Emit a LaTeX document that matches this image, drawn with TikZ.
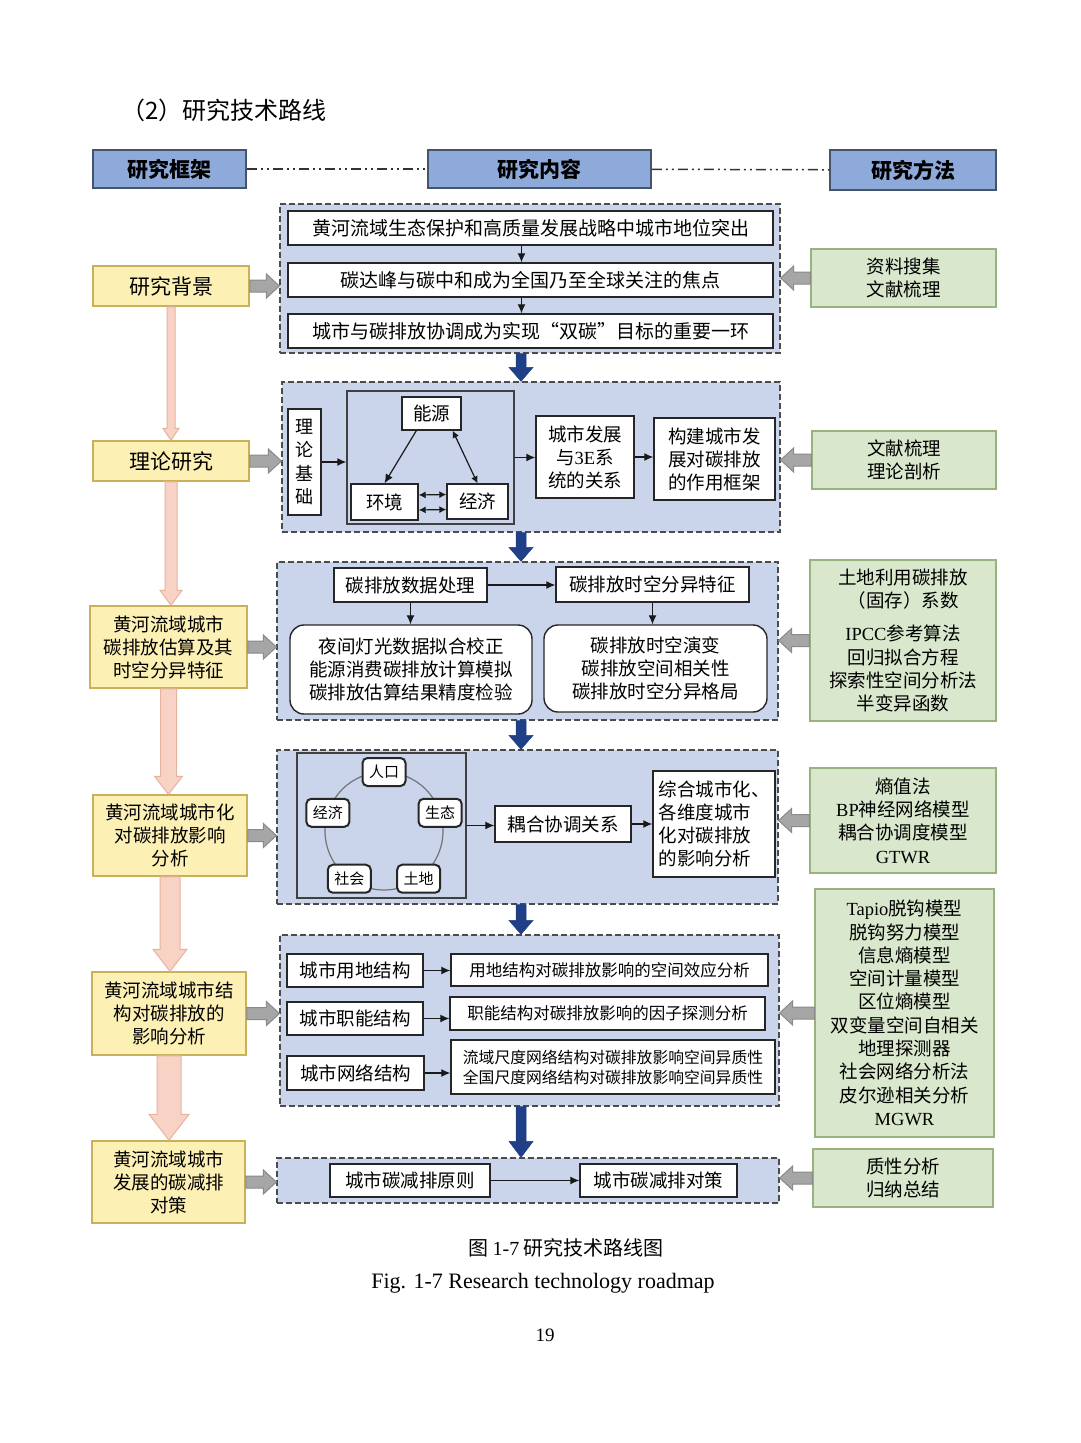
\documentclass[tikz,border=0pt]{standalone}
\usepackage{fontspec}
\setmainfont{Noto Sans CJK SC}
\newfontfamily\latin{Liberation Serif}
\usetikzlibrary{calc,arrows.meta,positioning}
\definecolor{headblue}{HTML}{8EAADB}
\definecolor{headline}{HTML}{44546A}
\definecolor{boxyellow}{HTML}{FDF0B4}
\definecolor{lineyellow}{HTML}{C9B15A}
\definecolor{boxgreen}{HTML}{D9E8CC}
\definecolor{linegreen}{HTML}{98B380}
\definecolor{boxblue}{HTML}{CAD4EA}
\definecolor{navy}{HTML}{1F3F87}
\definecolor{pinkfill}{HTML}{F8D3C5}
\definecolor{pinkline}{HTML}{E6B39F}
\definecolor{grayfill}{HTML}{A6A6A6}
\definecolor{grayline}{HTML}{8A8A8A}
\newcommand\fsz[2]{\fontsize{#1}{#2}\selectfont}
\def\vblock[#1](#2)(#3)#4#5#6{\path[#1] let \p1=(#2), \p2=(#3) in ({\x1-#4},\y1) -- ({\x1-#4},{\y2+(#6)}) -- ({\x1-#5},{\y2+(#6)}) -- (\x1,\y2) -- ({\x1+#5},{\y2+(#6)}) -- ({\x1+#4},{\y2+(#6)}) -- ({\x1+#4},\y1) -- cycle;}
\def\hblock[#1](#2)(#3)#4#5#6{\path[#1] let \p1=(#2), \p2=(#3) in (\x1,{\y1+#4}) -- ({\x2-(#6)},{\y1+#4}) -- ({\x2-(#6)},{\y1+#5}) -- (\x2,\y1) -- ({\x2-(#6)},{\y1-#5}) -- ({\x2-(#6)},{\y1-#4}) -- (\x1,{\y1-#4}) -- cycle;}
\tikzset{
  headbox/.style={draw=headline, fill=headblue, line width=1.5pt, inner sep=0pt, font=\fsz{21}{25}\bfseries},
  ybox/.style={draw=lineyellow, fill=boxyellow, line width=1.5pt, inner sep=0pt, align=center, font=\fsz{18.5}{23}},
  gbox/.style={draw=linegreen, fill=boxgreen, line width=1.5pt, inner sep=0pt, align=center, font=\fsz{18.5}{23.3}},
  cbox/.style={draw=black!70, fill=boxblue, line width=1.2pt, dash pattern=on 6pt off 3pt, inner sep=0pt},
  wbox/.style={draw=black!85, fill=white, line width=1.4pt, inner sep=0pt, align=center, font=\fsz{18.5}{23}},
  rbox/.style={wbox, rounded corners=14pt},
  ringbox/.style={wbox, rounded corners=5pt, line width=2pt, font=\fsz{15}{18}},
  innerframe/.style={draw=black!75, line width=1.4pt, inner sep=0pt},
  arr/.style={draw=black!90, line width=1.2pt, -{Latex[length=9pt,width=8pt]}},
  dblarr/.style={draw=black!90, line width=1.2pt, arrows={Latex[length=7pt,width=7pt]-Latex[length=7pt,width=7pt]}},
  pinkarr/.style={fill=pinkfill, draw=pinkline, line width=1pt},
  grayarr/.style={fill=grayfill, draw=grayline, line width=1pt},
  bluearr/.style={fill=navy, draw=navy, line width=0.5pt},
  dashdot/.style={draw=black!80, line width=1.5pt, dash pattern=on 10pt off 4pt on 2pt off 4pt on 2pt off 4pt},
}
\begin{document}
\begin{tikzpicture}[x=1pt,y=-1pt]
%%%%% START %%%%%
\useasboundingbox (0,0) rectangle (1080,1443);
\fill[white] (0,0) rectangle (1080,1443);

\node[anchor=west, font=\fsz{24}{28}] (title) at (118,110) {（2）研究技术路线};

% header row
\node[headbox, minimum width=153, minimum height=38] (hf) at (169.5,169) {研究框架};
\node[headbox, minimum width=223, minimum height=38] (hc) at (539.5,169) {研究内容};
\node[headbox, minimum width=166, minimum height=40] (hm) at (913,170) {研究方法};
\draw[dashdot] (hf) -- (hc);
\draw[dashdot] (hc) -- (hm);

% left column
\node[ybox, minimum width=156, minimum height=40, font=\fsz{21}{25}] (y1) at (171,286) {研究背景};
\node[ybox, minimum width=156, minimum height=40, font=\fsz{21}{25}] (y2) at (171,461) {理论研究};
\node[ybox, minimum width=157, minimum height=82] (y3) at (168.5,647) {黄河流域城市\\碳排放估算及其\\时空分异特征};
\node[ybox, minimum width=154, minimum height=81] (y4) at (170,835.5) {黄河流域城市化\\对碳排放影响\\分析};
\node[ybox, minimum width=154, minimum height=83] (y5) at (169,1013.5) {黄河流域城市结\\构对碳排放的\\影响分析};
\node[ybox, minimum width=153, minimum height=82] (y6) at (168.5,1182) {黄河流域城市\\发展的碳减排\\对策};
\vblock[pinkarr](y1.south)(y2.north){4}{8}{12}
\vblock[pinkarr](y2.south)(y3.north){6}{11}{15}
\vblock[pinkarr](y3.south)(y4.north){8}{14}{18}
\vblock[pinkarr](y4.south)(y5.north){10}{17}{22}
\vblock[pinkarr](y5.south)(y6.north){12}{20}{26}

% right column
\node[gbox, minimum width=185, minimum height=58] (g1) at (903.5,278) {资料搜集\\文献梳理};
\node[gbox, minimum width=184, minimum height=58] (g2) at (904,460) {文献梳理\\理论剖析};
\node[gbox, minimum width=186, minimum height=161] (g3) at (903,640.5) {土地利用碳排放\\（固存）系数\\[10pt]{\latin IPCC}参考算法\\回归拟合方程\\探索性空间分析法\\半变异函数};
\node[gbox, minimum width=186, minimum height=105] (g4) at (903,820.5) {熵值法\\{\latin BP}神经网络模型\\耦合协调度模型\\{\latin GTWR}};
\node[gbox, minimum width=179, minimum height=248] (g5) at (904.5,1013) {{\latin Tapio}脱钩模型\\脱钩努力模型\\信息熵模型\\空间计量模型\\区位熵模型\\双变量空间自相关\\地理探测器\\社会网络分析法\\皮尔逊相关分析\\{\latin MGWR}};
\node[gbox, minimum width=180, minimum height=58] (g6) at (903,1178) {质性分析\\归纳总结};

% middle column
\node[cbox, minimum width=500, minimum height=149] (c1) at (530,278.5) {};
\node[cbox, minimum width=498, minimum height=150] (c2) at (531,457) {};
\node[cbox, minimum width=501, minimum height=158] (c3) at (527.5,641) {};
\node[cbox, minimum width=501, minimum height=154] (c4) at (527.5,827) {};
\node[cbox, minimum width=499, minimum height=171] (c5) at (529.5,1020.5) {};
\node[cbox, minimum width=502, minimum height=45] (c6) at (528,1180.5) {};

\hblock[grayarr](y1.east)(y1.east -| c1.west){6}{12}{13}
\hblock[grayarr](y2.east)(y2.east -| c2.west){6}{12}{13}
\hblock[grayarr](y3.east)(y3.east -| c3.west){6}{12}{13}
\hblock[grayarr](y4.east)(y4.east -| c4.west){6}{12}{13}
\hblock[grayarr](y5.east)(y5.east -| c5.west){6}{12}{13}
\hblock[grayarr](y6.east)(y6.east -| c6.west){6}{12}{13}
\hblock[grayarr](g1.west)(g1.west -| c1.east){6}{12}{-13}
\hblock[grayarr](g2.west)(g2.west -| c2.east){6}{12}{-13}
\hblock[grayarr](g3.west)(g3.west -| c3.east){6}{12}{-13}
\hblock[grayarr](g4.west)(g4.west -| c4.east){6}{12}{-13}
\hblock[grayarr](g5.west)(g5.west -| c5.east){6}{12}{-13}
\hblock[grayarr](g6.west)(g6.west -| c6.east){6}{12}{-13}

\coordinate (mid) at (521,0);
\vblock[bluearr](c1.south -| mid)(c2.north -| mid){5}{12}{14}
\vblock[bluearr](c2.south -| mid)(c3.north -| mid){5}{12}{14}
\vblock[bluearr](c3.south -| mid)(c4.north -| mid){5}{12}{14}
\vblock[bluearr](c4.south -| mid)(c5.north -| mid){5}{12}{14}
\vblock[bluearr](c5.south -| mid)(c6.north -| mid){5}{12}{16}

% background
\node[wbox, minimum width=485, minimum height=34, font=\fsz{19}{23}] (t1) at (530.5,228) {黄河流域生态保护和高质量发展战略中城市地位突出};
\node[wbox, minimum width=485, minimum height=34, font=\fsz{19}{23}] (t2) at (530.5,280) {碳达峰与碳中和成为全国乃至全球关注的焦点};
\node[wbox, minimum width=485, minimum height=34, font=\fsz{19}{23}] (t3) at (530.5,331) {城市与碳排放协调成为实现“双碳”目标的重要一环};
\draw[arr] ([xshift=-9]t1.south) -- ([xshift=-9]t2.north);
\draw[arr] ([xshift=-9]t2.south) -- ([xshift=-9]t3.north);

% theory
\node[wbox, minimum width=33, minimum height=106, font=\fsz{18}{23.3}] (ll) at (304.5,462) {理\\论\\基\\础};
\node[innerframe, minimum width=167, minimum height=133] (fr) at (430.5,457.5) {};
\node[wbox, minimum width=59, minimum height=33] (ny) at (431.5,413.5) {能源};
\node[wbox, minimum width=67, minimum height=36] (hj) at (384.5,502) {环境};
\node[wbox, minimum width=61, minimum height=35] (jj) at (477.5,501.5) {经济};
\draw[arr] ([xshift=15]ny.south west) -- (hj.north);
\draw[dblarr] ([xshift=-9]ny.south east) -- (jj.north);
\draw[dblarr] ([yshift=7]hj.east) -- ([yshift=7]jj.west);
\draw[dblarr] ([yshift=-8]hj.east) -- ([yshift=-8]jj.west);
\node[wbox, minimum width=98, minimum height=82] (cs) at (585,457) {城市发展\\与{\latin 3E}系\\统的关系};
\node[wbox, minimum width=121, minimum height=82] (gj) at (714.5,459) {构建城市发\\展对碳排放\\的作用框架};
\draw[arr] (ll.east) -- (ll.east -| fr.west);
\draw[arr] (fr.east) -- (fr.east -| cs.west);
\draw[arr] (cs.east) -- (cs.east -| gj.west);

% estimation
\node[wbox, minimum width=153, minimum height=34] (sp) at (410.5,585) {碳排放数据处理};
\node[wbox, minimum width=193, minimum height=35] (sf) at (652.5,584.5) {碳排放时空分异特征};
\node[rbox, minimum width=242, minimum height=89] (rl) at (411,669.5) {夜间灯光数据拟合校正\\能源消费碳排放计算模拟\\碳排放估算结果精度检验};
\node[rbox, minimum width=223, minimum height=87] (rr) at (655.5,668.5) {碳排放时空演变\\碳排放空间相关性\\碳排放时空分异格局};
\draw[arr] (sp.east) -- (sp.east -| sf.west);
\draw[arr] (sp.south) -- (sp.south |- rl.north);
\draw[arr] (sf.south) -- (sf.south |- rr.north);

% urbanization
\node[innerframe, minimum width=169, minimum height=145] (fr2) at (381.5,825.5) {};
\coordinate (ctr) at (384,831);
\draw[black!55, line width=1.2pt] (ctr) circle[radius=59pt];
\node[ringbox, minimum width=43, minimum height=28] (rk) at ($(ctr)+(90:59pt)$) {人口};
\node[ringbox, minimum width=43, minimum height=28] (st) at ($(ctr)+(18:59pt)$) {生态};
\node[ringbox, minimum width=43, minimum height=28] (td) at ($(ctr)+(-54:59pt)$) {土地};
\node[ringbox, minimum width=43, minimum height=28] (sh) at ($(ctr)+(-126:59pt)$) {社会};
\node[ringbox, minimum width=43, minimum height=28] (jx) at ($(ctr)+(162:59pt)$) {经济};
\node[wbox, minimum width=136, minimum height=36] (ou) at (563,824) {耦合协调关系};
\node[wbox, minimum width=122, minimum height=106, align=left] (zh) at (714,824) {综合城市化、\\各维度城市\\化对碳排放\\的影响分析};
\draw[arr] (fr2.east) -- (fr2.east -| ou.west);
\draw[arr] (ou.east) -- (ou.east -| zh.west);

% structure
\node[wbox, minimum width=136, minimum height=33] (a1) at (355,970.5) {城市用地结构};
\node[wbox, minimum width=317, minimum height=32, font=\fsz{16.5}{20}] (b1) at (609.5,970) {用地结构对碳排放影响的空间效应分析};
\node[wbox, minimum width=136, minimum height=33] (a2) at (355,1018.5) {城市职能结构};
\node[wbox, minimum width=315, minimum height=33, font=\fsz{16.5}{20}] (b2) at (607.5,1013.5) {职能结构对碳排放影响的因子探测分析};
\node[wbox, minimum width=137, minimum height=34] (a3) at (355.5,1073) {城市网络结构};
\node[wbox, minimum width=324, minimum height=54, font=\fsz{15.8}{20}] (b3) at (613,1067) {流域尺度网络结构对碳排放影响空间异质性\\全国尺度网络结构对碳排放影响空间异质性};
\draw[arr] (a1.east) -- (a1.east -| b1.west);
\draw[arr] (a2.east) -- (a2.east -| b2.west);
\draw[arr] (a3.east) -- (a3.east -| b3.west);

% policy
\node[wbox, minimum width=160, minimum height=33] (p1) at (410,1180.5) {城市碳减排原则};
\node[wbox, minimum width=157, minimum height=33] (p2) at (658.5,1180.5) {城市碳减排对策};
\draw[arr] (p1) -- (p2);

% caption
\node[font=\fsz{20}{24}] (cap1) at (566,1248) {图 {\latin 1-7} 研究技术路线图};
\node[font=\latin\fsz{22}{26}] (cap2) at (543,1283) {Fig. 1-7 Research technology roadmap};
\node[font=\latin\fsz{19}{22}] (pg) at (545,1335) {19};
%%%%% END %%%%%
\end{tikzpicture}
\end{document}
